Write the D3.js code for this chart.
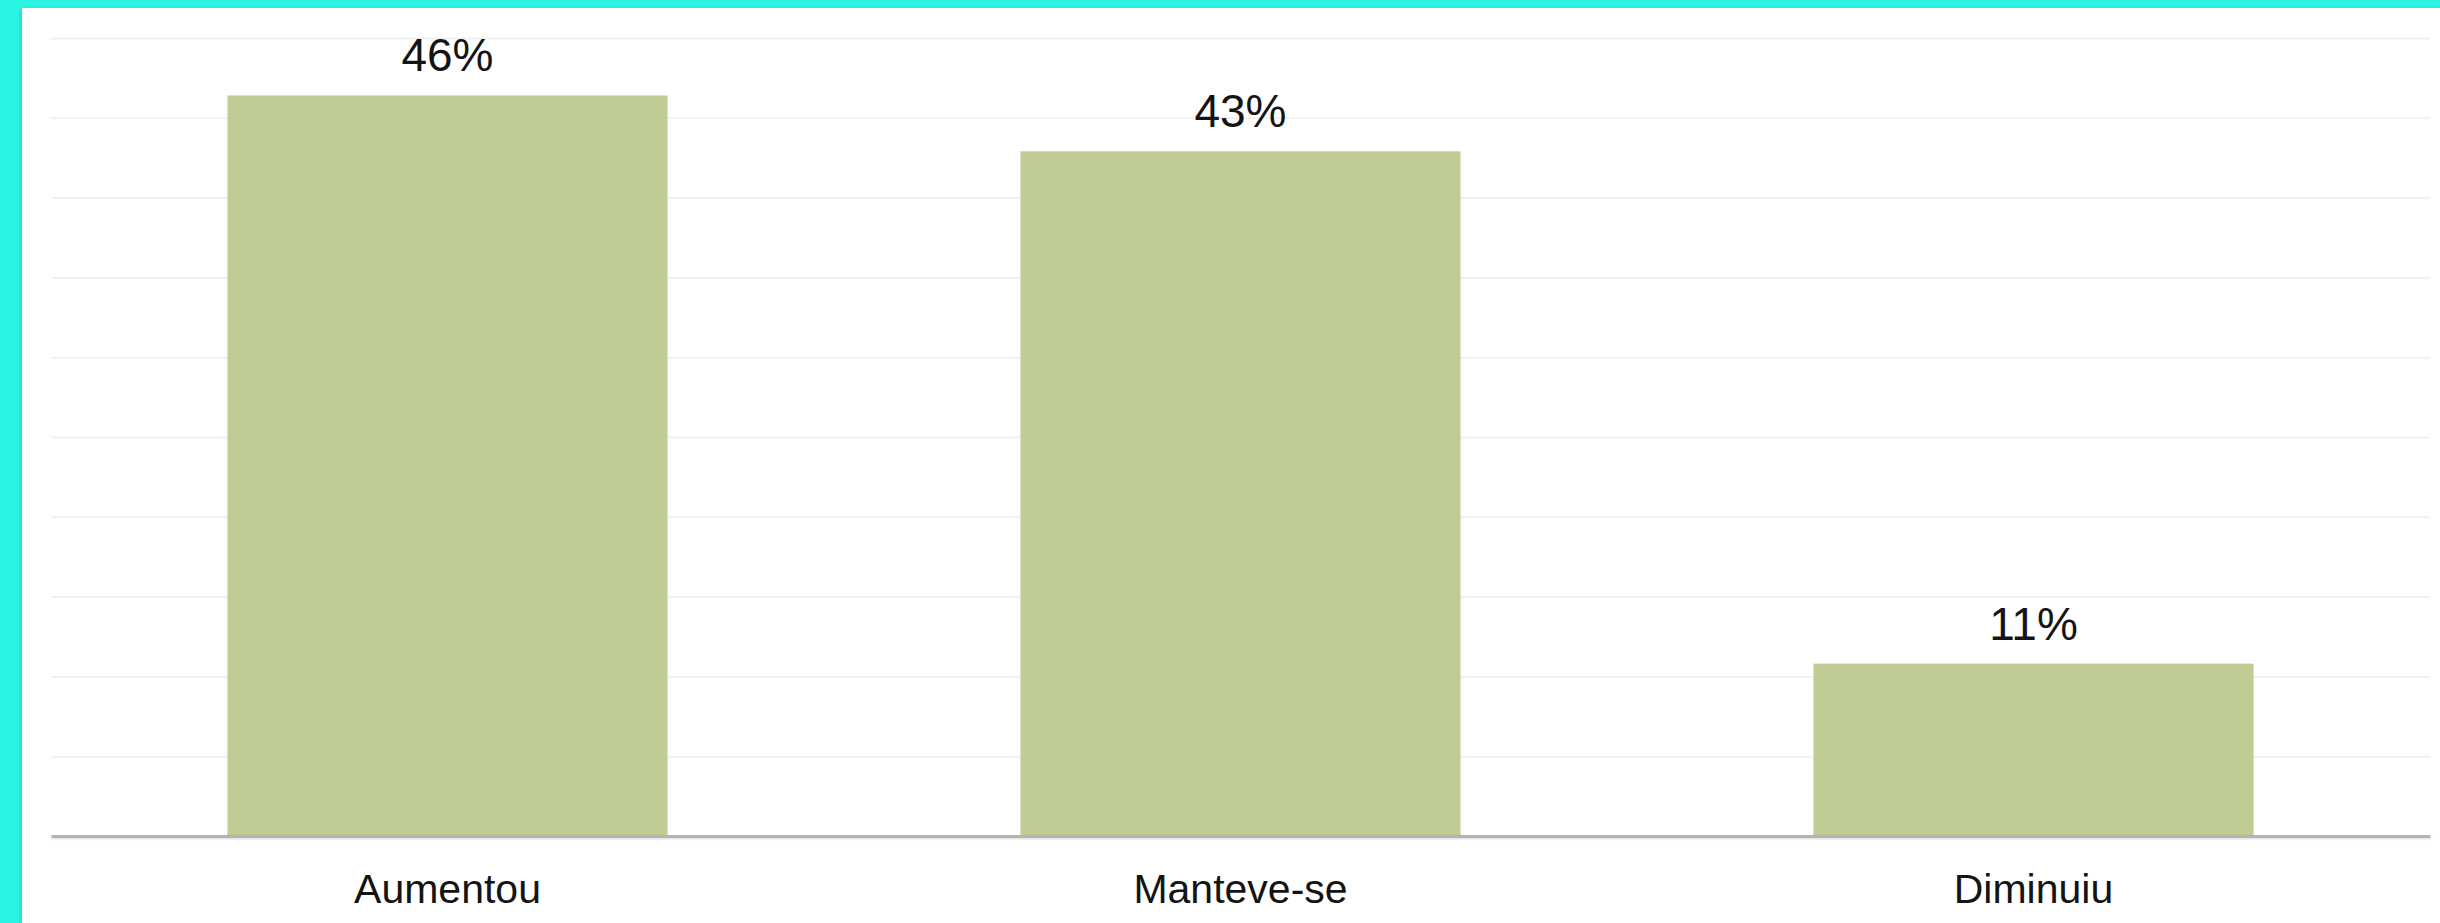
<!DOCTYPE html>
<html>
<head>
<meta charset="utf-8">
<script src="https://cdn.jsdelivr.net/npm/d3@7"></script>
<style>
  html, body { margin: 0; padding: 0; }
  body { background: #2af5e2; width: 2440px; height: 923px; overflow: hidden; }
  #panel {
    position: absolute; left: 22px; top: 8px; width: 2418px; height: 915px;
    background: #fff; box-shadow: -1px 1px 4px rgba(0,0,0,0.18);
  }
  svg { position: absolute; left: 0; top: 0; }
  text { font-family: "Liberation Sans", Arial, sans-serif; fill: #141414; }
</style>
</head>
<body>
<div id="panel"></div>
<svg id="chart"></svg>
<script>
// data
var categories = ["Aumentou", "Manteve-se", "Diminuiu"];
var values = [0.464, 0.429, 0.108];
var gridTicks = [0.05, 0.10, 0.15, 0.20, 0.25, 0.30, 0.35, 0.40, 0.45, 0.50];

var svgWidth = 2440;
var svgHeight = 923;

var margin = {
    top : 38,
    left : 51,
    right : 10,
    bottom : 87
};

var Width = svgWidth - margin.left - margin.right;
var Height = svgHeight - margin.top - margin.bottom;

var svg = d3.select("#chart")
    .attr("width", svgWidth)
    .attr("height", svgHeight);

var chartGroup = svg.append("g")
    .attr("transform", `translate(${margin.left}, ${margin.top})`);

var xBandScale = d3.scaleBand()
    .domain(categories)
    .range([0, Width])
    .paddingInner(0.445)
    .paddingOuter(0.2225);

var yLinearScale = d3.scaleLinear()
    .domain([0, 0.5])
    .range([Height, 0]);

// gridlines
chartGroup.append("g")
    .call(d3.axisLeft(yLinearScale).tickValues(gridTicks).tickSize(-Width).tickFormat(""))
    .call(g => g.select(".domain").remove())
    .selectAll(".tick line")
    .attr("stroke", "#f1f1f1")
    .attr("stroke-width", 2);

var data = categories.map((c, i) => ({ cat: c, val: values[i] }));

chartGroup.selectAll("rect.bar")
    .data(data)
    .enter()
    .append("rect")
    .attr("class", "bar")
    .attr("x", d => xBandScale(d.cat))
    .attr("y", d => yLinearScale(d.val))
    .attr("width", xBandScale.bandwidth())
    .attr("height", d => Height - yLinearScale(d.val))
    .attr("fill", "#bfcd94");

// value labels
chartGroup.selectAll(null)
    .data(data)
    .enter()
    .append("text")
    .text(d => d3.format(".0%")(d.val))
    .attr("font-size", 46)
    .attr("x", d => xBandScale(d.cat) + xBandScale.bandwidth() / 2)
    .attr("y", d => yLinearScale(d.val) - 24)
    .style("text-anchor", "middle");

// x axis
var xAxis = chartGroup.append("g")
    .attr("transform", `translate(0, ${Height})`)
    .call(d3.axisBottom(xBandScale).tickSize(0).tickPadding(38));

xAxis.select(".domain")
    .attr("stroke", "#b4b4b4")
    .attr("stroke-width", 3)
    .style("filter", "drop-shadow(0px 1px 1px rgba(0,0,0,0.15))");

xAxis.selectAll(".tick text")
    .attr("font-size", 41)
    .attr("dy", "0.71em")
    .style("font-family", "'Liberation Sans', Arial, sans-serif")
    .attr("fill", "#141414");
</script>
</body>
</html>
